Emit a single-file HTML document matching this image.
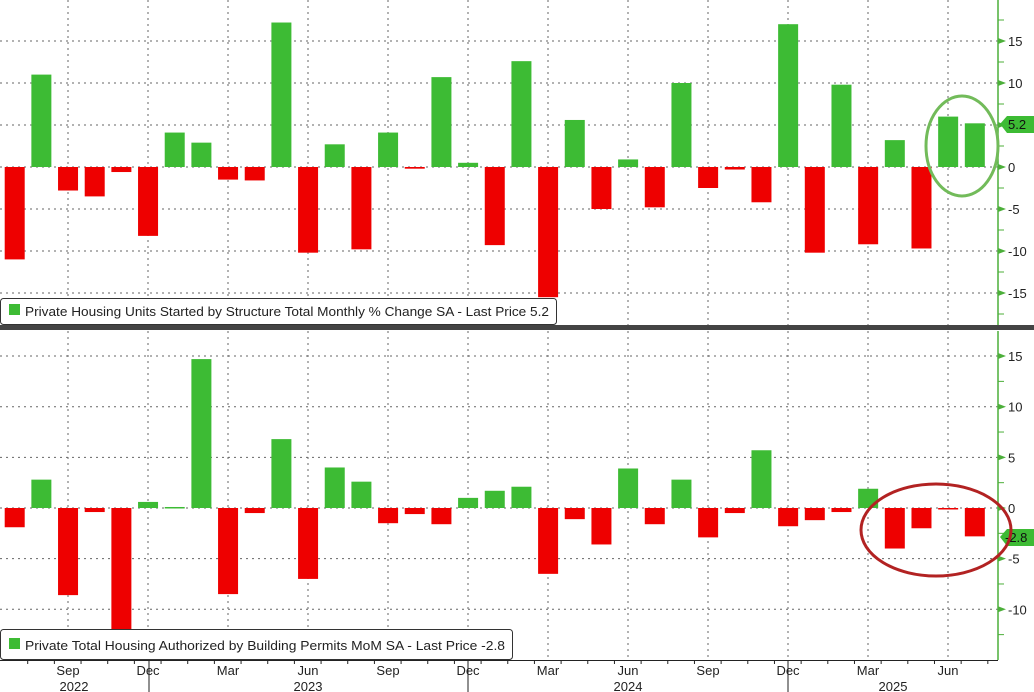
<!DOCTYPE html>
<html><head><meta charset="utf-8"><style>
html,body{margin:0;padding:0;background:#fff;}
svg{display:block;font-family:"Liberation Sans",sans-serif;}
</style></head><body>
<svg id="s" width="1034" height="692" viewBox="0 0 1034 692" xmlns="http://www.w3.org/2000/svg"></svg>
<script>
(function(){
const s=document.getElementById('s');
let h='';
const topV=[-11,11,-2.8,-3.5,-0.6,-8.2,4.1,2.9,-1.5,-1.6,17.2,-10.2,2.7,-9.8,4.1,-0.2,10.7,0.5,-9.3,12.6,-15.5,5.6,-5,0.9,-4.8,10,-2.5,-0.3,-4.2,17,-10.2,9.8,-9.2,3.2,-9.7,6,5.2];
const botV=[-1.9,2.8,-8.6,-0.4,-12,0.6,0.1,14.7,-8.5,-0.5,6.8,-7,4,2.6,-1.5,-0.6,-1.6,1,1.7,2.1,-6.5,-1.1,-3.6,3.9,-1.6,2.8,-2.9,-0.5,5.7,-1.8,-1.2,-0.4,1.9,-4,-2,-0.1,-2.8];
const cx=i=>14.7+i*26.67;
for(let k=0;k<12;k++){const x=68+k*80;h+=`<line x1="${x}" y1="0" x2="${x}" y2="325" stroke="#666" stroke-dasharray="2,4" stroke-width="1"/><line x1="${x}" y1="331" x2="${x}" y2="660" stroke="#666" stroke-dasharray="2,4" stroke-width="1"/>`;}
function panel(z,ppu,vals,ticks,minor,y0,y1){
 ticks.forEach(t=>{const y=z-t*ppu;h+=`<line x1="0" y1="${y}" x2="998" y2="${y}" stroke="#666" stroke-dasharray="2,4"/>`;
 h+=`<polygon points="998,${y-3} 1006,${y} 998,${y+3}" fill="#4caf3a"/><text x="1008" y="${y+5}" font-size="13" fill="#222">${t<0?'-'+(-t):t}</text>`;});
 minor.forEach(t=>{const y=z-t*ppu;h+=`<line x1="998" y1="${y}" x2="1004" y2="${y}" stroke="#4caf3a"/>`;});
 h+=`<svg x="0" y="${y0}" width="998" height="${y1-y0}" overflow="hidden">`;
 vals.forEach((v,i)=>{const x=cx(i)-10;const y=v>0?z-v*ppu:z;const hh=Math.abs(v)*ppu;h+=`<rect x="${x}" y="${y-y0}" width="20" height="${Math.max(hh,1.5)}" fill="${v>=0?'#3dbb34':'#ee0000'}"/>`;});
 h+='</svg>';
}
panel(167,8.4,topV,[15,10,5,0,-5,-10,-15],[17.5,12.5,7.5,2.5,-2.5,-7.5,-12.5,-17.5],0,325);
panel(508,10.13,botV,[15,10,5,0,-5,-10],[12.5,7.5,2.5,-2.5,-7.5,-12.5],331,660);
h+=`<line x1="998" y1="0" x2="998" y2="325" stroke="#4caf3a" stroke-width="1.5"/><line x1="998" y1="331" x2="998" y2="660" stroke="#4caf3a" stroke-width="1.5"/>`;
h+=`<rect x="0" y="325" width="1034" height="5" fill="#444"/>`;
h+=`<polygon points="1000,124 1007,116 1034,116 1034,133 1007,133" fill="#3dbb34"/><text x="1008" y="129" font-size="13" fill="#111">5.2</text>`;
h+=`<polygon points="1000,537 1007,529 1034,529 1034,546 1007,546" fill="#3dbb34"/><text x="1005" y="542" font-size="13" fill="#111">-2.8</text>`;
h+=`<ellipse cx="962" cy="146" rx="36" ry="50" fill="none" stroke="#72bb5a" stroke-width="3"/>`;
h+=`<ellipse cx="936" cy="530" rx="75" ry="46" fill="none" stroke="#b22222" stroke-width="3"/>`;
h+=`<rect x="0.5" y="298.5" width="556" height="26" rx="3" fill="#fff" stroke="#333"/><rect x="9" y="304" width="11" height="11" fill="#3dbb34"/><text x="25" y="316" font-size="13" fill="#222" textLength="524" lengthAdjust="spacingAndGlyphs">Private Housing Units Started by Structure Total Monthly % Change SA - Last Price 5.2</text>`;
h+=`<rect x="0.5" y="629.5" width="512" height="30" rx="3" fill="#fff" stroke="#333"/><rect x="9" y="638" width="11" height="11" fill="#3dbb34"/><text x="25" y="650" font-size="13" fill="#222" textLength="480" lengthAdjust="spacingAndGlyphs">Private Total Housing Authorized by Building Permits MoM SA - Last Price -2.8</text>`;
h+=`<line x1="0" y1="660.5" x2="998" y2="660.5" stroke="#222"/>`;
for(let i=0;i<37;i++){const x=cx(i);h+=`<line x1="${x+13}" y1="660" x2="${x+13}" y2="664" stroke="#222"/>`;}
const ml=['Sep','Dec','Mar','Jun'];
for(let k=0;k<12;k++){const x=68+k*80;h+=`<text x="${x}" y="675" font-size="13" text-anchor="middle" fill="#222">${ml[k%4]}</text>`;}
[149,468,788].forEach(x=>{h+=`<line x1="${x}" y1="661" x2="${x}" y2="692" stroke="#222"/>`;});
[[74,'2022'],[308,'2023'],[628,'2024'],[893,'2025']].forEach(([x,t])=>{h+=`<text x="${x}" y="691" font-size="13" text-anchor="middle" fill="#222">${t}</text>`;});
s.innerHTML=h;
})();
</script>
</body></html>
